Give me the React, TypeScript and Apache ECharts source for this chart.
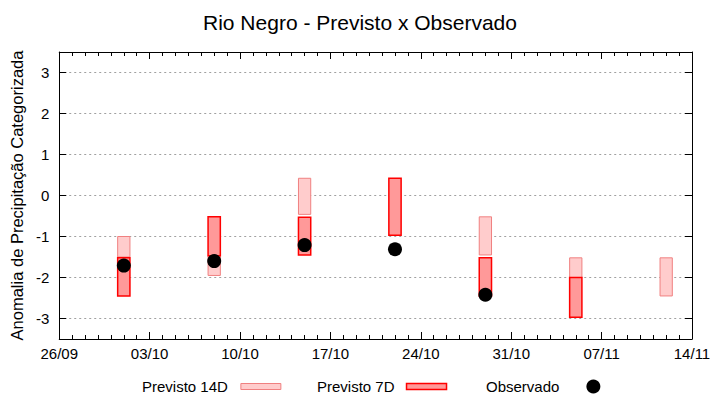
import React, { useEffect, useRef } from "react";
import * as echarts from "echarts";

const FONT = "Liberation Sans";

const titleText = "Rio Negro - Previsto x Observado";
const yAxisName = "Anomalia de Precipitação Categorizada";
const xTickLabels = ["26/09", "03/10", "10/10", "17/10", "24/10", "31/10", "07/11", "14/11"];

// forecast / observation dates (DD/MM)
const dates = ["01/10", "08/10", "15/10", "22/10", "29/10", "05/11", "12/11"];
// Previsto 14D ranges [low, high]
const prev14Low: (number | null)[] = [-1.5, -1.95, -0.46, null, -1.45, -2.0, -2.45];
const prev14High: (number | null)[] = [-1.0, -1.47, 0.42, null, -0.52, -1.52, -1.52];
// Previsto 7D ranges [low, high]
const prev7Low: (number | null)[] = [-2.45, -1.47, -1.45, -0.97, -2.45, -2.97, null];
const prev7High: (number | null)[] = [-1.52, -0.52, -0.53, 0.42, -1.52, -2.0, null];
// Observado
const observed: (number | null)[] = [-1.71, -1.6, -1.21, -1.31, -2.42, null, null];

const c14Fill = "#ffcccc";
const c14Border = "#f08080";
const c7Fill = "#ff9999";
const c7Border = "#ff0000";

function dayOffset(ddmm: string): number {
  const [d, m] = ddmm.split("/").map(Number);
  return (Date.UTC(2023, m - 1, d) - Date.UTC(2023, 8, 26)) / 86400000;
}

function rangeData(low: (number | null)[], high: (number | null)[]) {
  const out: number[][] = [];
  dates.forEach((d, i) => {
    const l = low[i];
    const h = high[i];
    if (l !== null && h !== null) out.push([dayOffset(d), l, h]);
  });
  return out;
}

function makeRender(fill: string, stroke: string, lw: number) {
  return (params: any, api: any) => {
    const x = api.value(0);
    const p1 = api.coord([x, api.value(2)]);
    const p2 = api.coord([x, api.value(1)]);
    const w = api.size([0.95, 0])[0];
    return {
      type: "rect",
      shape: { x: p1[0] - w / 2, y: p1[1], width: w, height: p2[1] - p1[1] },
      style: { fill, stroke, lineWidth: lw },
    };
  };
}

export default function App() {
  const ref = useRef<HTMLDivElement>(null);
  useEffect(() => {
    if (!ref.current) return;
    const chart = echarts.init(ref.current, undefined, { renderer: "svg" });
    const obsData: number[][] = [];
    dates.forEach((d, i) => {
      const v = observed[i];
      if (v !== null) obsData.push([dayOffset(d), v]);
    });
    const tickCommon = { inside: true, length: 7, lineStyle: { color: "#000" } };
    const axisLineCommon = { show: true, onZero: false, lineStyle: { color: "#000", width: 1 } };
    const legendText = { fontFamily: FONT, fontSize: 15, color: "#000" };
    chart.setOption({
      animation: false,
      textStyle: { fontFamily: FONT },
      title: {
        text: titleText,
        left: "center",
        top: 7,
        textStyle: { fontFamily: FONT, fontSize: 21, fontWeight: "normal", color: "#000" },
      },
      grid: { left: 55, right: 28, top: 52, bottom: 61, show: false },
      legend: [
        {
          left: 142, top: 379, padding: 0, align: "right", itemWidth: 40, itemHeight: 6,
          textStyle: { ...legendText, padding: [0, 8, 0, 0] },
          data: [{ name: "Previsto 14D", icon: "rect", itemStyle: { color: c14Fill, borderColor: c14Border, borderWidth: 1 } }],
        },
        {
          left: 317, top: 379, padding: 0, align: "right", itemWidth: 40, itemHeight: 6,
          textStyle: { ...legendText, padding: [0, 7, 0, 0] },
          data: [{ name: "Previsto 7D", icon: "rect", itemStyle: { color: c7Fill, borderColor: c7Border, borderWidth: 1.5 } }],
        },
        {
          left: 486, top: 379, padding: 0, align: "right", itemWidth: 14, itemHeight: 14,
          textStyle: { ...legendText, padding: [0, 22, 0, 0] },
          data: [{ name: "Observado", icon: "circle", itemStyle: { color: "#000", opacity: 1 } }],
        },
      ],
      xAxis: [
        {
          type: "value", min: 0, max: 49, interval: 7, position: "bottom",
          axisLine: axisLineCommon,
          axisTick: tickCommon,
          minorTick: { show: true, splitNumber: 7, length: 4, lineStyle: { color: "#000" } },
          splitLine: { show: false },
          axisLabel: {
            color: "#000", fontSize: 15, fontFamily: FONT, margin: 7,
            formatter: (v: number) => xTickLabels[Math.round(v / 7)] ?? "",
          },
        },
        {
          type: "value", min: 0, max: 49, interval: 7, position: "top",
          axisLine: axisLineCommon,
          axisTick: tickCommon,
          minorTick: { show: true, splitNumber: 7, length: 4, lineStyle: { color: "#000" } },
          splitLine: { show: false },
          axisLabel: { show: false },
        },
      ],
      yAxis: [
        {
          type: "value", min: -3.5, max: 3.5, splitNumber: 7, position: "left",
          name: yAxisName, nameLocation: "middle", nameGap: 27,
          nameTextStyle: { color: "#000", fontSize: 16.5, fontFamily: FONT },
          axisLine: axisLineCommon,
          axisTick: tickCommon,
          splitLine: { show: true, lineStyle: { color: "#a0a0a0", type: [2, 3], width: 1 } },
          axisLabel: {
            color: "#000", fontSize: 15, fontFamily: FONT, margin: 10,
            showMinLabel: false, showMaxLabel: false,
            formatter: (v: number) => (Number.isInteger(v) ? String(v) : ""),
          },
        },
        {
          type: "value", min: -3.5, max: 3.5, splitNumber: 7, position: "right",
          axisLine: axisLineCommon,
          axisTick: tickCommon,
          splitLine: { show: false },
          axisLabel: { show: false },
        },
      ],
      series: [
        {
          name: "Previsto 14D", type: "custom", xAxisIndex: 0, yAxisIndex: 0,
          renderItem: makeRender(c14Fill, c14Border, 1),
          itemStyle: { color: c14Fill, borderColor: c14Border },
          encode: { x: 0, y: [1, 2] },
          data: rangeData(prev14Low, prev14High), z: 2,
        },
        {
          name: "Previsto 7D", type: "custom", xAxisIndex: 0, yAxisIndex: 0,
          renderItem: makeRender(c7Fill, c7Border, 1.5),
          itemStyle: { color: c7Fill, borderColor: c7Border },
          encode: { x: 0, y: [1, 2] },
          data: rangeData(prev7Low, prev7High), z: 3,
        },
        {
          name: "Observado", type: "scatter", xAxisIndex: 0, yAxisIndex: 0,
          symbol: "circle", symbolSize: 14,
          itemStyle: { color: "#000", opacity: 1 },
          data: obsData, z: 4,
        },
      ],
    });
    return () => chart.dispose();
  }, []);
  return <div ref={ref} style={{ position: "absolute", left: 0, top: 0, width: 720, height: 400 }} />;
}
